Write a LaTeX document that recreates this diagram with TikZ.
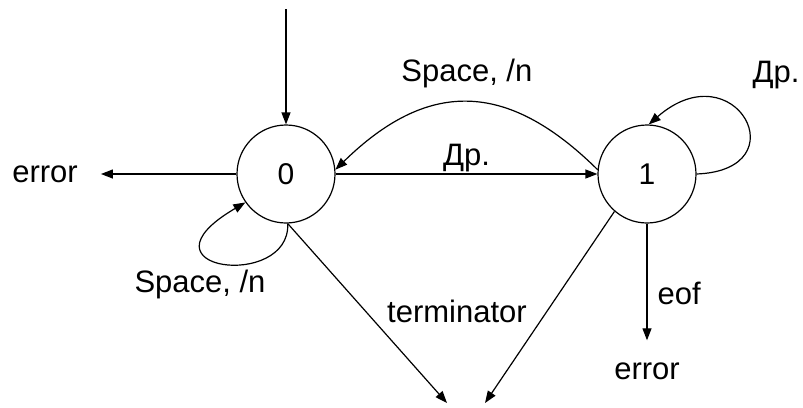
\documentclass[tikz,border=0pt]{standalone}
\usepackage{fontspec}
\setmainfont{Liberation Sans}
\usetikzlibrary{arrows.meta, positioning, calc}

\begin{document}
\begin{tikzpicture}[x=1pt, y=-1pt,
    state/.style={draw, circle, line width=1.2pt, minimum size=98pt, inner sep=0pt,
      font=\fontsize{30}{33}\selectfont},
    lbl/.style={inner sep=0pt, font=\fontsize{31}{34}\selectfont},
    arr/.style={line width=1.2pt, -{Triangle[length=12pt, width=9pt]}}]
  \useasboundingbox (0,0) rectangle (803,407);

  % states
  \node[state] (n0) at (286,174) {0};
  \node[state] (n1) at (647,174) {1};

  % free ends and targets
  \coordinate (start) at (286,9);
  \coordinate (term) at (466,403);
  \node[lbl] (err0) at (45,174) {error};
  \node[lbl] (err1) at (647,371) {error};

  % connectors
  \draw[arr] (start) -- (n0);
  \draw[arr, shorten >=23pt] (n0) -- (err0);
  \draw[arr] (n0) -- node[lbl, midway, above=1pt] (lblDr) {Др.} (n1);
  \draw[arr] (n1.175) .. controls +(-91,-90) and +(92,-90) .. (n0.5)
    node[lbl, midway, above=14pt] (lblSp) {Space, /n};
  \draw[arr] (n0.-88) .. controls +(3,67) and +(-116,68) .. (n0.-145);
  \draw[arr] (n1.0) .. controls +(104,-4) and +(86,-75) .. (n1.88);
  \draw[arr, shorten >=22pt] (n1) -- node[lbl, pos=0.5, right=10pt] (lblEof) {eof} (err1);
  \draw[arr] (n0.-88) -- ([xshift=-19pt]term);
  \draw[arr] (n1.-131) -- ([xshift=19pt]term);

  % loose labels
  \node[lbl] (lblSp0) at (200,284) {Space, /n};
  \node[lbl] (lblDr1) at (776,75) {Др.};
  \node[lbl] (lblTerm) at (457,311) {terminator};
\end{tikzpicture}
\end{document}
